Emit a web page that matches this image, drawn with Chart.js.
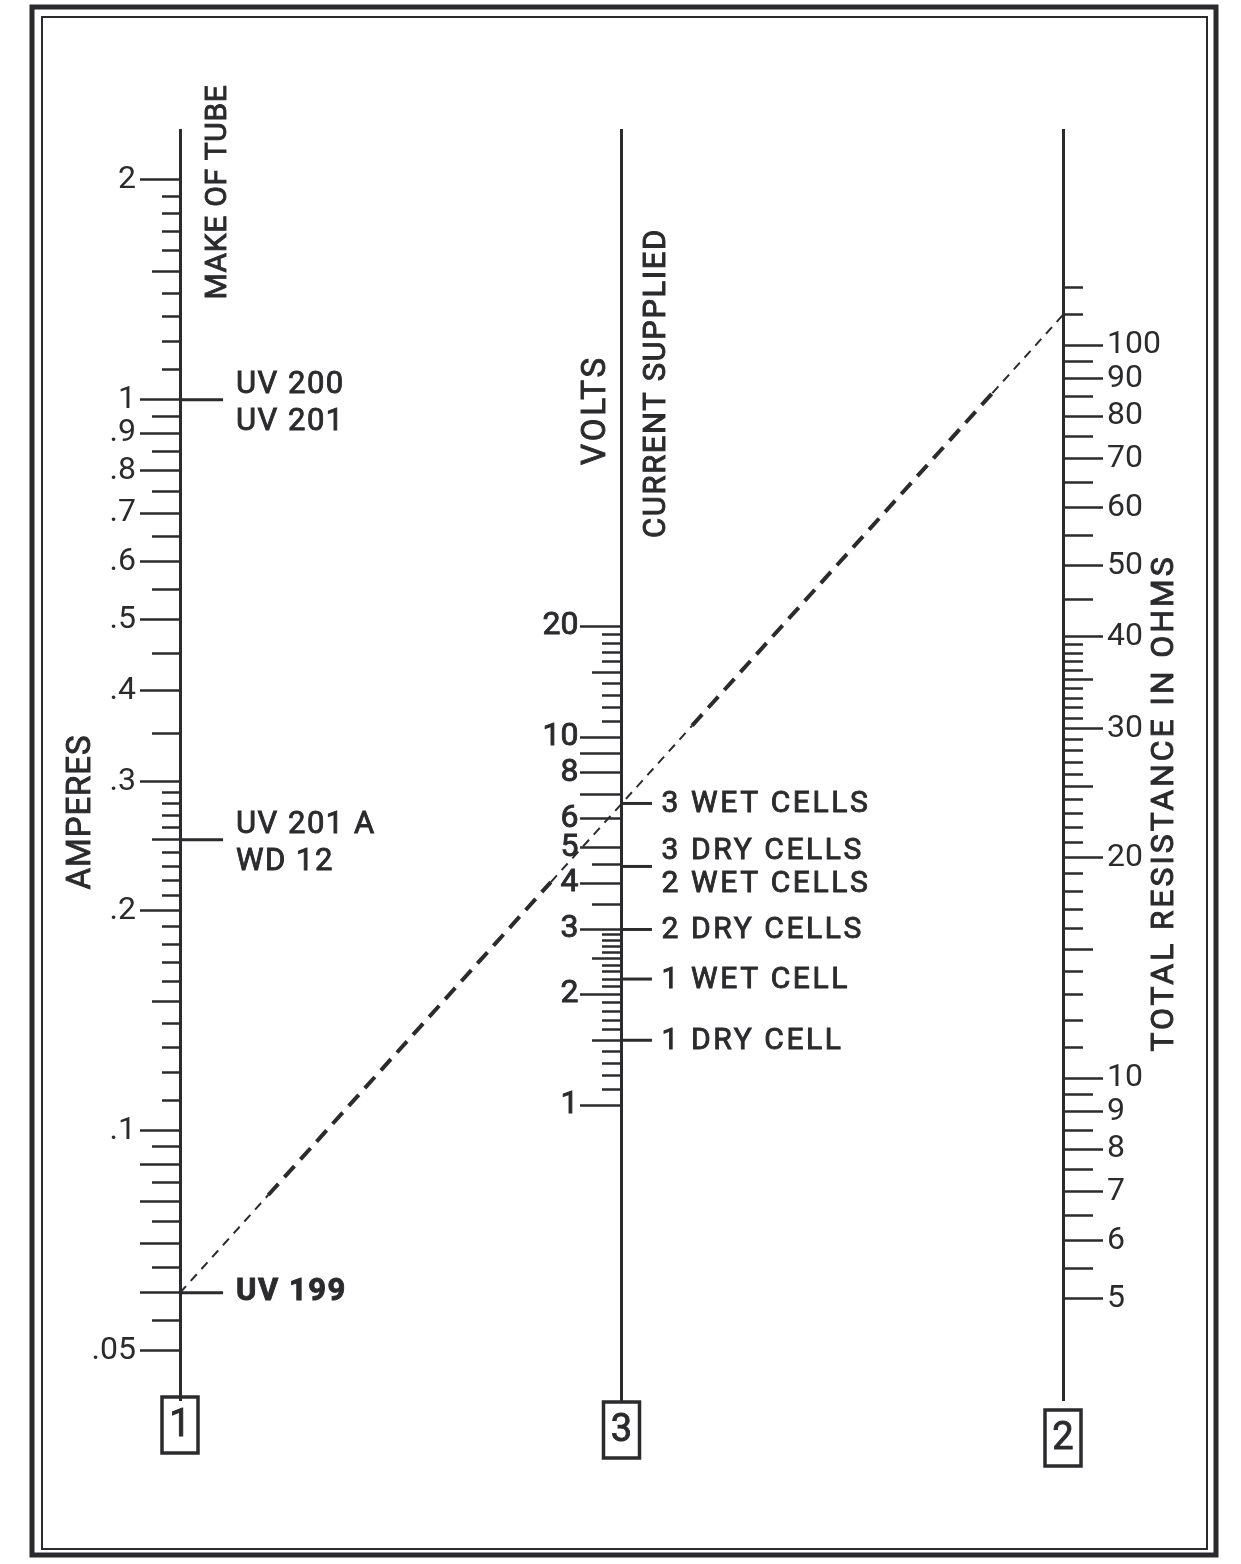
<!DOCTYPE html>
<html>
<head>
<meta charset="utf-8">
<title>Tube filament nomograph</title>
<script src="https://cdn.jsdelivr.net/npm/chart.js@4.4.1/dist/chart.umd.min.js"></script>
<style>
  html, body { margin: 0; padding: 0; background: #fff; }
  #wrap { width: 1241px; height: 1564px; position: relative; }
</style>
</head>
<body>
<div id="wrap"><canvas id="nomo"></canvas></div>
<script>
// scale 1 - amperes
const ampRange = [0.0428, 2.34];
const ampLabelValues = [2, 1, 0.9, 0.8, 0.7, 0.6, 0.5, 0.4, 0.3, 0.2, 0.1, 0.05];
const ampLabelText = ['2', '1', '.9', '.8', '.7', '.6', '.5', '.4', '.3', '.2', '.1', '.05'];
const ampLongTicks = [0.09, 0.08, 0.07, 0.06];
const ampMidTicks = [1.5, 0.95, 0.85, 0.75, 0.65, 0.55, 0.45, 0.35, 0.25, 0.15, 0.095, 0.085, 0.075, 0.065, 0.055];
const ampMinorTicks = [1.9, 1.8, 1.7, 1.6, 1.4, 1.3, 1.2, 1.1, 0.29, 0.28, 0.27, 0.26, 0.24, 0.23, 0.22, 0.21,
  0.19, 0.18, 0.17, 0.16, 0.14, 0.13, 0.12, 0.11];

// scale 3 - volts
const voltRange = [0.158, 446];
const voltLabelValues = [20, 10, 8, 6, 5, 4, 3, 2, 1];
const voltLabelText = ['20', '10', '8', '6', '5', '4', '3', '2', '1'];
const voltLongTicks = [9, 7];
const voltMidTicks = [15, 4.5, 3.5, 2.5, 1.5];
const voltMinorTicks = [19, 18, 17, 16, 14, 13, 12, 11, 2.9, 2.8, 2.7, 2.6, 2.4, 2.3, 2.2, 2.1,
  1.9, 1.8, 1.7, 1.6, 1.4, 1.3, 1.2, 1.1];

// scale 2 - ohms
const ohmRange = [3.64, 196.6];
const ohmLabelValues = [100, 90, 80, 70, 60, 50, 40, 30, 20, 10, 9, 8, 7, 6, 5];
const ohmLabelText = ['100', '90', '80', '70', '60', '50', '40', '30', '20', '10', '9', '8', '7', '6', '5'];
const ohmLongTicks = [];
const ohmMidTicks = [95, 85, 75, 65, 55, 45, 35, 25, 15, 9.5, 8.5, 7.5, 6.5, 5.5];
const ohmMinorTicks = [120, 110, 39, 38, 37, 36, 34, 33, 32, 31, 29, 28, 27, 26, 24, 23, 22, 21,
  19, 18, 17, 16, 14, 13, 12, 11];

// marked values
const tubeNames = [['UV 200', 'UV 201'], ['UV 201 A', 'WD 12'], ['UV 199']];
const tubeAmps = [1, 0.25, 0.06];
const cellNames = [['3 WET CELLS'], ['3 DRY CELLS', '2 WET CELLS'], ['2 DRY CELLS'], ['1 WET CELL'], ['1 DRY CELL']];
const cellVolts = [6.6, 4.45, 3, 2.2, 1.5];

// worked example drawn as the dashed key line
const exampleAmps = 0.06;
const exampleOhms = 110;

const ink = '#2b2b2e';
const FONT = 'Roboto, "DejaVu Sans", sans-serif';
const TL = 40;

function tickLen(v, labels, longs, mids) {
  if (labels.includes(v) || longs.includes(v)) return TL;
  if (mids.includes(v)) return 28;
  return 18;
}

function logAxis(o) {
  const all = [...o.labels, ...o.longs, ...o.mids, ...o.minors].sort((a, b) => a - b);
  return {
    type: 'logarithmic',
    position: o.position,
    min: o.range[0],
    max: o.range[1],
    afterFit: o.width ? (s) => { s.width = o.width; } : undefined,
    afterBuildTicks: (s) => { s.ticks = all.map(v => ({ value: v })); },
    border: { display: true, color: ink, width: 3 },
    grid: {
      drawOnChartArea: false,
      drawTicks: true,
      tickLength: TL,
      tickWidth: 2.5,
      tickColor: ink,
      tickBorderDash: (c) => {
        if (!c.tick) return [];
        const L = tickLen(c.tick.value, o.labels, o.longs, o.mids);
        // left-hand axis draws its ticks from the outer end inward
        return o.position === 'left' ? [0, TL - L, 300, 0] : [L, 300];
      }
    },
    ticks: {
      display: o.showLabels,
      autoSkip: false,
      maxRotation: 0,
      padding: 4,
      color: ink,
      font: { family: FONT, size: 32 },
      callback: (v) => {
        const i = o.labels.indexOf(v);
        return i < 0 ? '' : o.text[i];
      }
    }
  };
}

function putText(c, text, x, y, o) {
  c.save();
  c.translate(x, y);
  if (o.rot) c.rotate(o.rot);
  c.font = (o.weight || 'normal') + ' ' + o.size + 'px ' + FONT;
  let sp = o.spacing || 0;
  if ('letterSpacing' in c) {
    c.letterSpacing = '0px';
    if (o.width) {
      const w = c.measureText(text).width;
      sp = (o.width - w) / Math.max(1, text.length);
    }
    c.letterSpacing = sp + 'px';
  }
  c.textAlign = o.align || 'left';
  c.textBaseline = 'middle';
  c.fillStyle = ink;
  c.fillText(text, 0, 0);
  // the hand lettering is a little heavier than the font
  c.strokeStyle = ink;
  c.lineWidth = 0.9;
  c.strokeText(text, 0, 0);
  c.restore();
}

const nomoPlugin = {
  id: 'nomo',
  beforeDraw(chart) {
    const c = chart.ctx;
    c.save();
    c.fillStyle = '#fff';
    c.fillRect(0, 0, chart.width, chart.height);
    c.strokeStyle = ink;
    c.lineWidth = 5;
    c.strokeRect(32, 7, 1184, 1548);
    c.lineWidth = 2;
    c.strokeRect(42, 17, 1165, 1532);
    c.restore();
  },
  afterDraw(chart) {
    const c = chart.ctx;
    const s = chart.scales;
    const xAmp = s.x.getPixelForValue(0);
    const xVolt = s.x.getPixelForValue(0.5);
    const xOhm = s.x.getPixelForValue(1);

    // volt tick labels (axis sits inside the plot, so labels drawn here)
    voltLabelValues.forEach((v, i) => {
      putText(c, voltLabelText[i], xVolt - TL - 3, s.volts.getPixelForValue(v), { size: 32, align: 'right' });
    });

    // dashed key line: amps -> ohms, crossing the volts scale
    const p1 = { x: xAmp, y: s.amps.getPixelForValue(exampleAmps) };
    const p2 = { x: xOhm, y: s.ohms.getPixelForValue(exampleOhms) };
    const parts = [[0, 0.1, 2, [9, 7]], [0.1, 0.42, 4, [15, 9]], [0.42, 0.58, 2, [9, 7]],
      [0.58, 0.92, 4, [15, 9]], [0.92, 1, 2, [9, 7]]];
    c.save();
    c.strokeStyle = ink;
    parts.forEach(([a, b, w, d]) => {
      c.lineWidth = w;
      c.setLineDash(d);
      c.beginPath();
      c.moveTo(p1.x + (p2.x - p1.x) * a, p1.y + (p2.y - p1.y) * a);
      c.lineTo(p1.x + (p2.x - p1.x) * b, p1.y + (p2.y - p1.y) * b);
      c.stroke();
    });
    c.restore();

    // tube names beside their markers
    const tubeMeta = chart.getDatasetMeta(0).data;
    tubeNames.forEach((names, i) => {
      const y = tubeMeta[i].y;
      const offs = names.length === 2 ? [-15, 22] : [-1];
      names.forEach((n, k) => {
        putText(c, n, xAmp + 56, y + offs[k], { size: 31, spacing: 1.5, weight: i === 2 ? 'bold' : 'normal' });
      });
    });

    // battery names beside their markers
    const cellMeta = chart.getDatasetMeta(1).data;
    cellNames.forEach((names, i) => {
      const y = cellMeta[i].y;
      const offs = names.length === 2 ? [-15, 18] : [1];
      names.forEach((n, k) => {
        putText(c, n, xVolt + 40, y + offs[k], { size: 30, spacing: 2.6 });
      });
    });

    // axis titles
    const up = -Math.PI / 2;
    putText(c, 'MAKE OF TUBE', 218, 192, { size: 30, rot: up, align: 'center', width: 215 });
    putText(c, 'AMPERES', 82, 812, { size: 33, rot: up, align: 'center', width: 155 });
    putText(c, 'VOLTS', 597, 410, { size: 33, rot: up, align: 'center', width: 110 });
    putText(c, 'CURRENT SUPPLIED', 657, 383, { size: 31, rot: up, align: 'center', width: 310 });
    putText(c, 'TOTAL RESISTANCE IN OHMS', 1165, 803, { size: 32, rot: up, align: 'center', width: 497 });

    // numbered boxes at the foot of each scale
    const area = chart.chartArea;
    [[xAmp, '1', -3], [xVolt, '3', 2], [xOhm, '2', 10]].forEach(([x, t, dy]) => {
      const top = area.bottom + dy;
      c.save();
      c.strokeStyle = ink;
      c.lineWidth = 3.5;
      c.strokeRect(x - 18, top, 36, 56);
      c.restore();
      putText(c, t, x, top + 29, { size: 38, align: 'center' });
    });
  }
};

new Chart(document.getElementById('nomo'), {
  type: 'scatter',
  data: {
    datasets: [
      {
        label: 'Make of tube',
        yAxisID: 'amps',
        data: tubeAmps.map(a => ({ x: 0.025, y: a })),
        pointStyle: 'line',
        pointRadius: 21,
        pointBorderWidth: 3,
        pointBorderColor: ink
      },
      {
        label: 'Current supplied',
        yAxisID: 'volts',
        data: cellVolts.map(v => ({ x: 0.5175, y: v })),
        pointStyle: 'line',
        pointRadius: 15,
        pointBorderWidth: 3,
        pointBorderColor: ink
      }
    ]
  },
  options: {
    responsive: true,
    maintainAspectRatio: false,
    animation: false,
    events: [],
    layout: { padding: { top: 130, bottom: 164, left: 0, right: 0 } },
    plugins: { legend: { display: false }, tooltip: { enabled: false } },
    scales: {
      x: { type: 'linear', min: 0, max: 1, display: false },
      amps: logAxis({ position: 'left', width: 180, range: ampRange, labels: ampLabelValues, text: ampLabelText,
        longs: ampLongTicks, mids: ampMidTicks, minors: ampMinorTicks, showLabels: true }),
      volts: logAxis({ position: { x: 0.5 }, range: voltRange, labels: voltLabelValues, text: voltLabelText,
        longs: voltLongTicks, mids: voltMidTicks, minors: voltMinorTicks, showLabels: false }),
      ohms: logAxis({ position: 'right', width: 178, range: ohmRange, labels: ohmLabelValues, text: ohmLabelText,
        longs: ohmLongTicks, mids: ohmMidTicks, minors: ohmMinorTicks, showLabels: true })
    }
  },
  plugins: [nomoPlugin]
});
</script>
</body>
</html>
